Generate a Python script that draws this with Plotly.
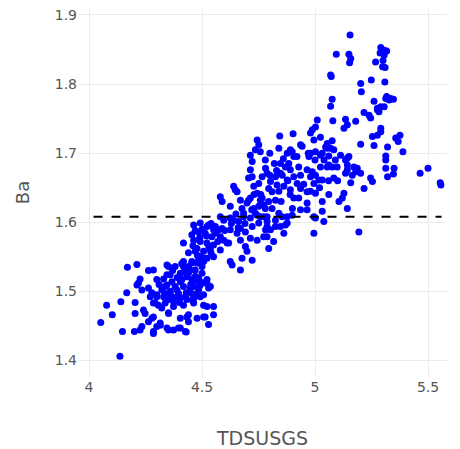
import plotly.graph_objects as go

# TDSUSGS (x) and Ba (y) values
tds = [
4.170,4.212,4.263,4.300,4.226,4.219,4.212,4.234,4.167,4.141,4.078,4.204,4.103,4.052,4.148,4.201,4.226,4.234,4.137,4.204,
4.241,4.248,4.263,4.278,4.285,4.300,4.315,4.345,4.374,4.404,4.426,4.307,4.322,4.293,4.352,4.404,4.433,4.440,4.478,4.507,
4.271,4.300,4.330,4.352,4.263,4.278,4.352,4.381,4.418,4.455,4.485,4.345,4.367,4.337,4.381,4.411,4.440,4.470,4.500,4.396,
4.426,4.455,4.485,4.507,4.367,4.337,4.322,4.455,4.485,4.470,
4.352,4.440,4.514,4.551,4.522,4.551,4.529,4.285,4.315,4.352,4.396,4.430,4.285,
4.300,4.359,4.389,4.418,4.448,4.478,4.507,4.537,4.522,4.463,4.404,4.345,4.337,4.374,4.404,4.433,4.463,4.492,4.374,4.418,
4.581,4.589,4.625,4.655,4.670,4.699,4.714,4.744,4.758,4.729,4.751,4.773,4.581,4.596,4.625,4.662,4.684,4.714,4.744,4.773,
4.788,4.625,4.655,4.692,4.722,4.751,4.781,4.714,4.744,4.773,4.596,4.618,4.670,4.692,4.699,4.677,4.722,4.625,4.633,4.670,
4.463,4.492,4.529,4.559,4.573,4.455,4.485,4.514,4.544,4.463,4.492,4.522,4.551,4.418,4.478,4.507,4.537,4.492,4.522,4.551,
4.581,4.455,4.478,4.507,4.448,4.500,4.611,4.581,
4.285,4.345,4.418,4.440,4.359,4.404,4.433,4.492,4.463,4.522,4.529,4.389,4.285,4.463,4.507,
4.744,4.751,4.736,4.758,4.844,4.903,4.936,4.980,5.002,4.995,4.840,4.877,4.899,4.906,4.980,5.002,4.714,4.722,4.714,4.722,
4.706,4.781,4.788,4.766,4.751,4.847,4.869,4.884,4.891,4.928,4.855,4.825,4.803,4.832,4.877,4.906,4.936,4.921,4.965,4.980,
5.002,4.995,5.017,4.640,4.647,4.729,4.795,4.810,4.862,4.891,4.936,4.965,5.002,4.706,4.766,4.795,4.825,4.906,4.928,4.965,
4.677,4.684,4.736,4.810,4.840,4.877,4.899,4.995,4.936,4.640,4.788,4.825,4.847,4.877,4.522,4.551,4.589,4.670,4.803,4.862,
4.995,
5.153,5.268,5.299,5.069,5.202,5.249,5.309,5.205,5.313,5.261,5.076,5.069,5.276,5.239,5.246,5.217,5.291,5.010,5.079,5.135,
5.143,5.128,5.180,5.291,5.254,5.276,4.988,5.024,5.076,5.202,5.261,5.321,4.891,4.943,4.973,5.024,5.047,5.069,5.083,5.113,
5.150,5.135,4.847,4.988,5.024,5.054,5.076,5.098,5.143,5.187,5.202,5.313,5.313,5.321,5.083,5.246,
5.155,5.094,5.150,5.158,5.291,5.306,5.317,5.288,5.306,5.301,5.310,5.072,5.328,5.347,
5.291,5.357,5.368,5.376,5.389,5.313,5.350,5.347,5.465,5.500,5.557,5.554,5.054,5.054,5.032,5.061,5.143,5.143,5.172,5.135,
5.165,5.180,5.061,5.032,5.158,5.254,5.217,5.061,5.128,5.121,5.106,5.032,5.143,5.032,5.039,5.194,
5.002,4.965,4.788,4.825,4.788,4.817,4.795,4.869,4.855,4.758,
5.317,5.335,5.276,5.283,5.306,
4.470,4.500,4.520,4.540,4.560,4.530,4.490,4.460,4.480,4.510,4.540,4.570,4.600,4.440,
4.390,4.420,4.450,4.470,4.430,4.360,4.400,4.460,4.490,4.410,4.370,4.330,4.310,
4.780,4.800,4.820,4.860,4.880,4.840,4.800,4.760,4.850,4.900,4.920,4.950,4.970,4.780,4.830,4.890,
5.000,5.040,5.060,5.020,5.090,5.100,4.980,
4.650,4.690,4.720,4.660,4.730,4.630,
]
ba = [
1.535,1.539,1.530,1.517,1.518,1.512,1.509,1.502,1.498,1.485,1.480,1.484,1.466,1.455,1.442,1.442,1.444,1.449,1.406,1.468,
1.473,1.468,1.456,1.461,1.442,1.449,1.451,1.447,1.444,1.447,1.442,1.480,1.476,1.483,1.469,1.461,1.463,1.456,1.461,1.463,
1.492,1.495,1.492,1.488,1.505,1.498,1.536,1.536,1.536,1.541,1.545,1.524,1.514,1.507,1.507,1.517,1.526,1.531,1.536,1.497,
1.492,1.497,1.502,1.512,1.492,1.497,1.502,1.517,1.519,1.558,
1.468,1.466,1.463,1.466,1.478,1.478,1.452,1.463,1.454,1.444,1.447,1.441,1.439,
1.492,1.497,1.502,1.507,1.505,1.497,1.495,1.507,1.512,1.514,1.514,1.509,1.483,1.485,1.490,1.488,1.490,1.492,1.478,1.480,
1.637,1.630,1.623,1.644,1.632,1.628,1.635,1.642,1.632,1.620,1.623,1.625,1.608,1.603,1.606,1.601,1.608,1.606,1.610,1.608,
1.601,1.589,1.584,1.586,1.594,1.599,1.589,1.577,1.574,1.579,1.574,1.570,1.574,1.565,1.558,1.548,1.545,1.543,1.538,1.531,
1.596,1.599,1.596,1.594,1.589,1.582,1.586,1.584,1.579,1.574,1.572,1.570,1.567,1.570,1.562,1.558,1.560,1.550,1.548,1.550,
1.560,1.543,1.541,1.543,1.531,1.526,1.570,1.579,
1.531,1.538,1.543,1.536,1.524,1.526,1.521,1.514,1.507,1.517,1.505,1.492,1.483,1.483,1.480,
1.719,1.712,1.705,1.702,1.725,1.728,1.712,1.729,1.738,1.719,1.707,1.700,1.702,1.695,1.700,1.702,1.697,1.688,1.676,1.666,
1.664,1.678,1.671,1.666,1.656,1.685,1.680,1.685,1.676,1.680,1.668,1.666,1.659,1.654,1.661,1.666,1.668,1.656,1.676,1.666,
1.668,1.656,1.661,1.652,1.647,1.652,1.649,1.644,1.652,1.647,1.649,1.644,1.642,1.632,1.635,1.630,1.632,1.635,1.635,1.628,
1.620,1.613,1.613,1.620,1.613,1.608,1.610,1.608,1.618,1.603,1.608,1.603,1.594,1.599,1.594,1.589,1.591,1.591,1.589,1.584,
1.584,
1.831,1.832,1.825,1.813,1.801,1.806,1.803,1.789,1.779,1.775,1.778,1.768,1.763,1.755,1.751,1.759,1.767,1.748,1.747,1.749,
1.741,1.736,1.746,1.736,1.724,1.726,1.734,1.723,1.718,1.713,1.711,1.709,1.705,1.710,1.695,1.697,1.709,1.707,1.705,1.697,
1.695,1.690,1.671,1.673,1.680,1.680,1.680,1.680,1.676,1.678,1.671,1.690,1.678,1.666,1.664,1.664,
1.871,1.843,1.843,1.837,1.853,1.849,1.848,1.845,1.842,1.834,1.824,1.811,1.777,1.778,
1.731,1.722,1.717,1.726,1.702,1.696,1.678,1.670,1.671,1.678,1.654,1.657,1.714,1.707,1.700,1.696,1.693,1.683,1.680,1.671,
1.668,1.673,1.683,1.661,1.657,1.659,1.649,1.640,1.642,1.635,1.630,1.630,1.620,1.616,1.601,1.586,
1.606,1.618,1.594,1.594,1.579,1.572,1.562,1.596,1.608,1.608,
1.782,1.779,1.765,1.760,1.767,
1.588,1.590,1.580,1.598,1.584,1.565,1.578,1.566,1.552,1.548,1.556,1.572,1.588,1.556,
1.520,1.528,1.510,1.522,1.498,1.500,1.484,1.486,1.508,1.540,1.530,1.518,1.510,
1.690,1.700,1.685,1.692,1.660,1.645,1.668,1.640,1.630,1.620,1.695,1.655,1.700,1.620,1.675,1.640,
1.690,1.690,1.660,1.650,1.690,1.660,1.645,
1.612,1.598,1.618,1.592,1.640,1.598,
]

ref_level = 1.608
ref_x = [4.02, 5.56]

fig = go.Figure()
fig.add_trace(go.Scatter(
    x=tds, y=ba, mode="markers",
    marker=dict(color="#0000ff", size=7, line=dict(width=0)),
    showlegend=False, hoverinfo="x+y",
))
fig.add_trace(go.Scatter(
    x=ref_x, y=[ref_level, ref_level], mode="lines",
    line=dict(color="black", width=2, dash="dash"),
    showlegend=False, hoverinfo="skip",
))

grid = "#ebebeb"
fig.update_layout(
    width=460, height=449,
    margin=dict(l=70, r=21, t=0, b=80, pad=0),
    paper_bgcolor="white", plot_bgcolor="white",
    font=dict(family="Verdana, DejaVu Sans, sans-serif", size=14, color="#555"),
    xaxis=dict(
        title=dict(text="TDSUSGS", font=dict(size=19), standoff=37),
        range=[3.9513, 5.584], tickvals=[4, 4.5, 5, 5.5], ticktext=["4", "4.5", "5", "5.5"],
        showgrid=True, gridcolor=grid, zeroline=False, showline=False,
        ticks="", tickfont=dict(size=14), automargin=False,
    ),
    yaxis=dict(
        title=dict(text="Ba", font=dict(size=18), standoff=20),
        range=[1.376, 1.9101], tickvals=[1.4, 1.5, 1.6, 1.7, 1.8, 1.9],
        ticktext=["1.4", "1.5", "1.6", "1.7", "1.8", "1.9"],
        showgrid=True, gridcolor=grid, zeroline=False, showline=False,
        ticks="", tickfont=dict(size=14), automargin=False,
        ticklabeloverflow="allow",
    ),
)

fig.write_html("out.html")
